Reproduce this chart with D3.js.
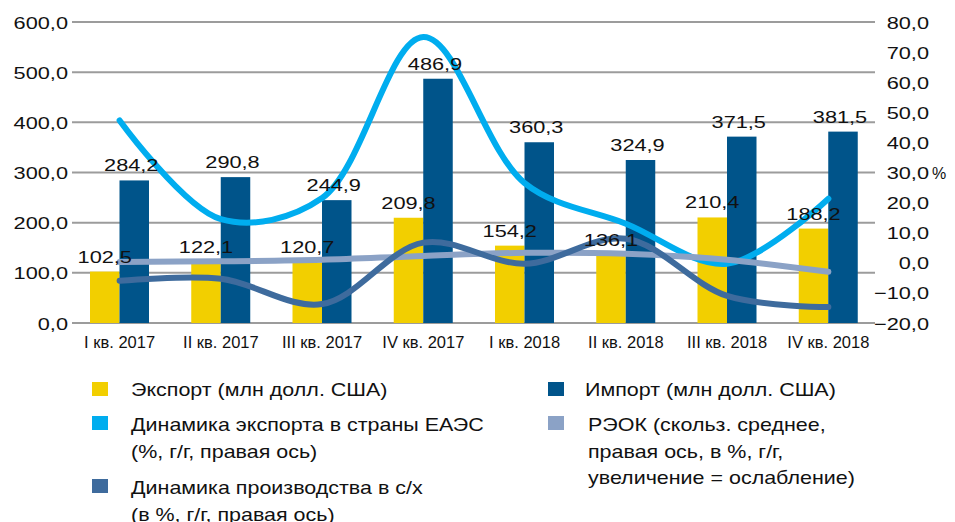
<!DOCTYPE html>
<html>
<head>
<meta charset="utf-8">
<script src="https://cdn.jsdelivr.net/npm/d3@7"></script>
<style>
  body { margin: 0; background: #fff; }
  text { font-family: "Liberation Sans", Arial, sans-serif; fill: #111; }
</style>
</head>
<body>
<svg id="chart"></svg>
<script>
const width = 955;
const height = 522;

// data
const quarters = ["I кв. 2017", "II кв. 2017", "III кв. 2017", "IV кв. 2017",
                  "I кв. 2018", "II кв. 2018", "III кв. 2018", "IV кв. 2018"];
const exportVals = [102.5, 122.1, 120.7, 209.8, 154.2, 136.1, 210.4, 188.2];
const importVals = [284.2, 290.8, 244.9, 486.9, 360.3, 324.9, 371.5, 381.5];
const eaeuExport = [47.3, 14.5, 21.5, 75.0, 26.5, 13.0, -0.3, 21.3];
const reer       = [0.3, 0.5, 1.0, 2.3, 3.3, 3.0, 1.0, -3.0];
const agroProd   = [-6.0, -5.3, -13.7, 6.7, -0.3, 8.0, -11.0, -14.7];
const leftTicks  = [0, 100, 200, 300, 400, 500, 600];
const rightTicks = [-20, -10, 0, 10, 20, 30, 40, 50, 60, 70, 80];

const colors = {
  exp: "#F2CF00",
  imp: "#00548A",
  eaeu: "#00ADEF",
  prod: "#3E6B9D",
  reer: "#8BA2C6"
};

const svg = d3.select("#chart")
  .attr("width", width)
  .attr("height", height);

const x = d3.scaleBand().domain(quarters).range([69, 879]);
const xSub = d3.scaleBand().domain(["exp", "imp"]).range([21, 80]);
const yL = d3.scaleLinear().domain([0, 600]).range([323, 22]);
const yR = d3.scaleLinear().domain([-20, 80]).range([323, 22]);

const fmt = v => d3.format(".1f")(v).replace(".", ",");

// numbers in the picture are drawn wide
function wideText(g, tx, ty, str, anchor) {
  return g.append("text")
    .attr("transform", `translate(${tx},${ty}) scale(1.28,1)`)
    .attr("text-anchor", anchor)
    .attr("font-size", 17)
    .text(str);
}

// gridlines
svg.append("g").selectAll("line")
  .data(leftTicks)
  .enter().append("line")
  .attr("x1", 72).attr("x2", 875)
  .attr("y1", d => yL(d)).attr("y2", d => yL(d))
  .attr("stroke", "#9c9c9c")
  .attr("stroke-width", 2);

// left axis labels
const leftAx = svg.append("g");
leftTicks.forEach(t => wideText(leftAx, 68, yL(t) + 6.5, fmt(t), "end"));

// right axis labels
const rightAx = svg.append("g");
rightTicks.forEach(t => wideText(rightAx, 929, yR(t) + 6.5, fmt(t), "end"));
rightAx.append("text")
  .attr("x", 932).attr("y", yR(30) + 6.5)
  .attr("font-size", 16)
  .text("%");

// x labels
svg.append("g").selectAll("text")
  .data(quarters)
  .enter().append("text")
  .attr("x", d => x(d) + x.bandwidth() / 2)
  .attr("y", 348)
  .attr("text-anchor", "middle")
  .attr("font-size", 16.5)
  .text(d => d);

// bars
const bars = svg.append("g");
bars.selectAll("rect.exp")
  .data(exportVals)
  .enter().append("rect")
  .attr("x", (d, i) => x(quarters[i]) + xSub("exp"))
  .attr("width", xSub.bandwidth())
  .attr("y", d => yL(d))
  .attr("height", d => yL(0) - yL(d))
  .attr("fill", colors.exp);
bars.selectAll("rect.imp")
  .data(importVals)
  .enter().append("rect")
  .attr("x", (d, i) => x(quarters[i]) + xSub("imp"))
  .attr("width", xSub.bandwidth())
  .attr("y", d => yL(d))
  .attr("height", d => yL(0) - yL(d))
  .attr("fill", colors.imp);

// lines (right axis)
const line = d3.line()
  .x((d, i) => x(quarters[i]) + x.bandwidth() / 2)
  .y(d => yR(d))
  .curve(d3.curveCatmullRom.alpha(0.5));

[[eaeuExport, colors.eaeu], [reer, colors.reer], [agroProd, colors.prod]].forEach(([vals, c]) => {
  svg.append("path")
    .attr("d", line(vals))
    .attr("fill", "none")
    .attr("stroke", c)
    .attr("stroke-width", 6)
    .attr("stroke-linecap", "round");
});

// data labels
const labels = svg.append("g");
exportVals.forEach((v, i) => {
  const cx = x(quarters[i]) + xSub("exp") + xSub.bandwidth() / 2;
  wideText(labels, cx, yL(v) - 9, fmt(v), "middle");
});
importVals.forEach((v, i) => {
  const cx = x(quarters[i]) + xSub("imp") + xSub.bandwidth() / 2 - 3;
  wideText(labels, cx, yL(v) - 9, fmt(v), "middle");
});

// legend
const legendItems = [
  { c: colors.exp, mx: 92, tx: 131, my: 382, lines: ["Экспорт (млн долл. США)"], ty: 389 },
  { c: colors.imp, mx: 548, tx: 585, my: 382, lines: ["Импорт (млн долл. США)"], ty: 389 },
  { c: colors.eaeu, mx: 92, tx: 131, my: 416, lines: ["Динамика экспорта в страны ЕАЭС", "(%, г/г, правая ось)"], ty: 424 },
  { c: colors.reer, mx: 548, tx: 588, my: 416, lines: ["РЭОК (скольз. среднее,", "правая ось, в %, г/г,", "увеличение = ослабление)"], ty: 424 },
  { c: colors.prod, mx: 92, tx: 131, my: 479, lines: ["Динамика производства в с/х", "(в %, г/г, правая ось)"], ty: 487 }
];

const legend = svg.append("g");
legendItems.forEach(it => {
  legend.append("rect")
    .attr("x", it.mx).attr("y", it.my)
    .attr("width", 16).attr("height", 14)
    .attr("fill", it.c);
  it.lines.forEach((s, k) => {
    legend.append("text")
      .attr("transform", `translate(${it.tx},${it.ty + 7 + k * 26.5}) scale(1.13,1)`)
      .attr("font-size", 19)
      .text(s);
  });
});
</script>
</body>
</html>
